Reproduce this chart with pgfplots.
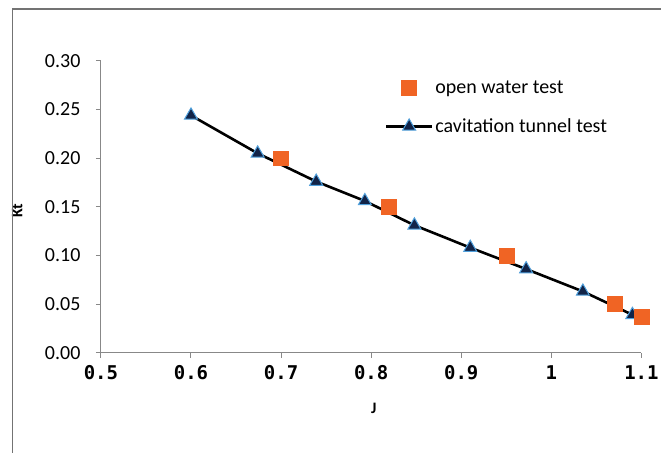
\documentclass[border=0pt]{standalone}
\usepackage{fontspec}
\setmainfont{Carlito}
\newfontfamily\monofont{DejaVu Sans Mono}
\usepackage{pgfplots}
\pgfplotsset{compat=1.18}

\definecolor{owt}{RGB}{240,100,36}
\definecolor{trifill}{RGB}{18,36,72}
\definecolor{triedge}{RGB}{80,160,220}
\definecolor{axgray}{RGB}{136,136,136}

\begin{document}
\begin{tikzpicture}
\begin{axis}[
    scale only axis,
    width=541pt, height=292pt,
    xmin=0.5, xmax=1.1,
    ymin=0, ymax=0.30,
    axis x line*=bottom,
    axis y line*=left,
    axis line style={axgray, line width=1pt},
    tick style={axgray, line width=1pt},
    tick align=outside,
    major tick length=5pt,
    xtick={0.5,0.6,0.7,0.8,0.9,1,1.1},
    xticklabels={0.5,0.6,0.7,0.8,0.9,1,1.1},
    ytick={0,0.05,0.10,0.15,0.20,0.25,0.30},
    yticklabels={0.00,0.05,0.10,0.15,0.20,0.25,0.30},
    x tick label style={font=\monofont\bfseries\fontsize{19}{22}\selectfont, yshift=-4pt},
    y tick label style={font=\fontsize{20}{24}\selectfont, xshift=-12pt},
    xlabel={\textbf{J}},
    ylabel={\textbf{Kt}},
    xlabel style={font=\fontsize{16}{18}\selectfont, at={(axis description cs:0.505,-0.19)}, anchor=center},
    ylabel style={font=\fontsize{16}{18}\selectfont, at={(axis description cs:-0.155,0.486)}, anchor=center},
    legend style={draw=none, fill=none, font=\fontsize{20}{24}\selectfont,
        at={(axis description cs:0.525,0.94)}, anchor=north west,
        row sep=20pt, inner sep=0pt,
        /tikz/every even column/.append style={column sep=2pt}},
    legend cell align=left,
    reverse legend,
    legend image code/.code={\draw[mark repeat=2,mark phase=2,#1] plot coordinates {(0pt,0pt)(23pt,0pt)(46pt,0pt)};},
]
\addplot[black, line width=2.6pt, mark=triangle*, mark size=7.5pt,
    mark options={fill=trifill, draw=triedge, line width=1pt}]
    coordinates {
    (0.600,0.244) (0.674,0.205) (0.739,0.176) (0.793,0.156) (0.848,0.131)
    (0.910,0.108) (0.972,0.086) (1.035,0.063) (1.090,0.039)
};
\addlegendentry{cavitation tunnel test}
\addplot[only marks, mark=square*, mark size=7.5pt, color=owt]
    coordinates {
    (0.70,0.200) (0.82,0.150) (0.95,0.100) (1.07,0.050) (1.10,0.037)
};
\addlegendentry{open water test}
\end{axis}
\draw[gray!110, line width=1.2pt] (-88.3pt,-100pt) -- (-88.3pt,344pt) -- (561pt,344pt);
\path[use as bounding box] (-101pt,-100pt) rectangle (561pt,353pt);
\end{tikzpicture}
\end{document}
